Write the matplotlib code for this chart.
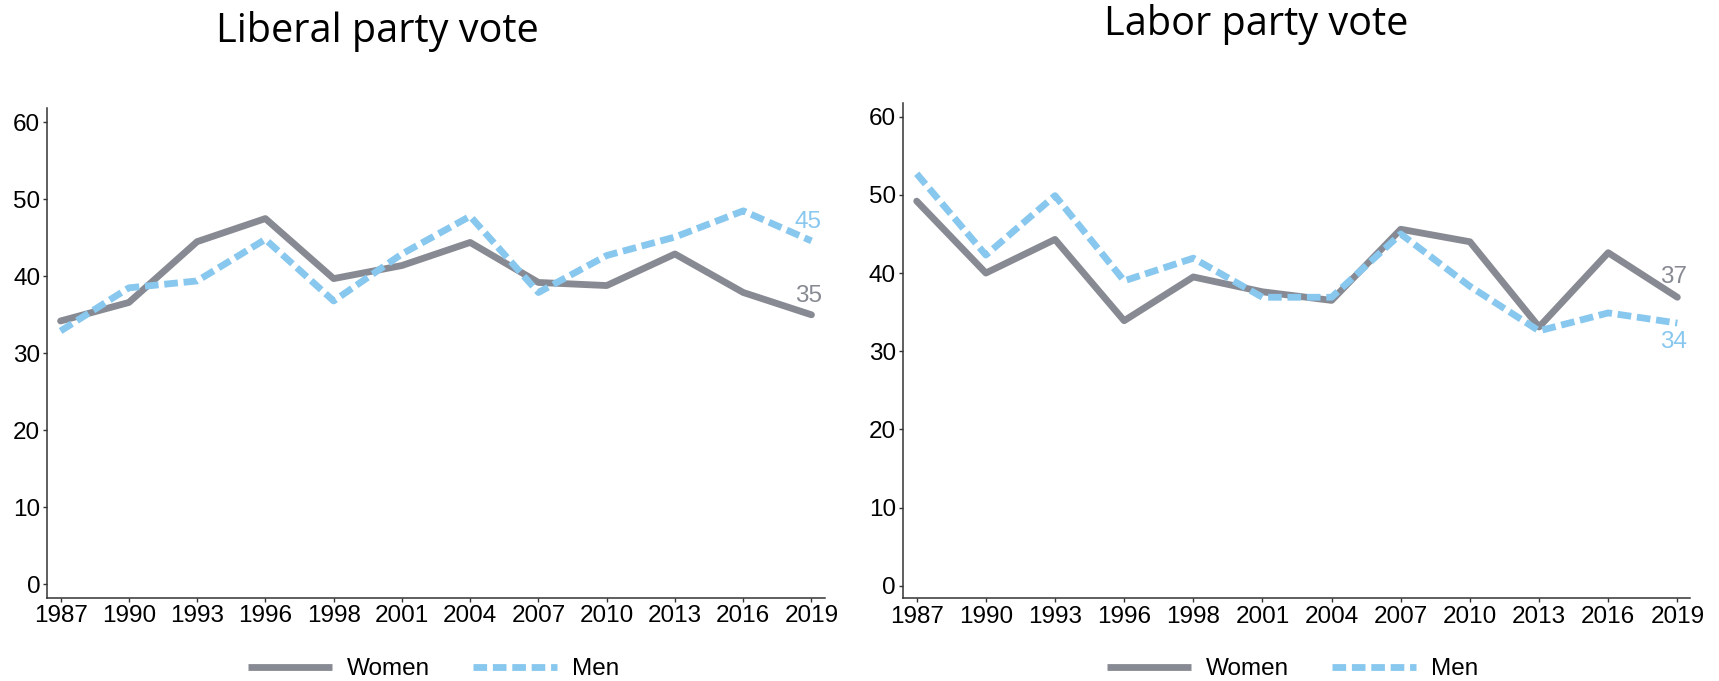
import matplotlib
matplotlib.use("Agg")
import matplotlib.pyplot as plt
from matplotlib.lines import Line2D

years = ["1987", "1990", "1993", "1996", "1998", "2001", "2004", "2007", "2010", "2013", "2016", "2019"]

liberal_women = [34.2, 36.6, 44.5, 47.5, 39.7, 41.4, 44.4, 39.2, 38.8, 42.9, 37.9, 35.0]
liberal_men = [32.9, 38.5, 39.4, 44.8, 36.8, 42.9, 47.8, 37.9, 42.7, 45.1, 48.5, 44.6]

labor_women = [49.2, 40.0, 44.3, 33.9, 39.5, 37.6, 36.5, 45.6, 44.0, 33.1, 42.6, 36.9]
labor_men = [52.7, 42.3, 49.9, 39.0, 41.9, 36.9, 36.9, 45.0, 38.3, 32.6, 34.9, 33.6]

titles = ["Liberal party vote", "Labor party vote"]
series_names = ["Women", "Men"]
yticks = [0, 10, 20, 30, 40, 50, 60]

WOMEN_C = "#878A92"
MEN_C = "#88C7EE"

plt.rcParams['font.family'] = ['Liberation Sans', 'DejaVu Sans']

W, H = 1719, 681
fig = plt.figure(figsize=(W / 100, H / 100), dpi=100)

def px_axes(x0, x1, ytop, ybot):
    return fig.add_axes([x0 / W, 1 - ybot / H, (x1 - x0) / W, (ybot - ytop) / H])

ax1 = px_axes(47.4, 825, 108.3, 597.7)
ax2 = px_axes(903, 1689.8, 102.7, 598.3)

panels = [
    (ax1, liberal_women, liberal_men, (-1.74, 61.82), (-0.193, 11.198), 2.5, 2.5),
    (ax2, labor_women, labor_men, (-1.61, 61.79), (-0.198, 11.18), 2.6, -2.4),
]

for ax, women, men, ylim, xlim, woff, moff in panels:
    xs = list(range(len(years)))
    ax.plot(xs, women, color=WOMEN_C, lw=4.9, solid_capstyle='round',
            solid_joinstyle='round', zorder=2)
    ax.plot(xs, men, color=MEN_C, lw=4.9, dashes=(2.0, 0.85),
            dash_capstyle='butt', zorder=3)
    ax.set_ylim(*ylim)
    ax.set_xlim(*xlim)
    ax.set_xticks(xs)
    ax.set_xticklabels(years)
    ax.set_yticks(yticks)
    for s in ['top', 'right']:
        ax.spines[s].set_visible(False)
    for s in ['left', 'bottom']:
        ax.spines[s].set_color('#333333')
        ax.spines[s].set_linewidth(1.1)
    ax.tick_params(axis='both', direction='out', length=3.2, width=1.0,
                   color='#333333', labelsize=17.5, pad=2, labelcolor='black')
    last = len(years) - 1
    ax.text(last - 0.05, women[-1] + woff, f"{round(women[-1])}", color=WOMEN_C,
            fontsize=17.5, ha='center', va='center')
    ax.text(last - 0.05, men[-1] + moff, f"{round(men[-1])}", color=MEN_C,
            fontsize=17.5, ha='center', va='center')

fig.text(377 / W, 1 - 41.5 / H, titles[0], fontsize=28.5, family=['Open Sans', 'DejaVu Sans'],
         ha='center', va='baseline')
fig.text(1256 / W, 1 - 35 / H, titles[1], fontsize=28.5, family=['Open Sans', 'DejaVu Sans'],
         ha='center', va='baseline')

handles = [
    Line2D([0], [0], color=WOMEN_C, lw=4.9, solid_capstyle='butt'),
    Line2D([0], [0], color=MEN_C, lw=4.9, dashes=(2.0, 0.85), dash_capstyle='butt'),
]

for ax, x0 in [(ax1, 248), (ax2, 1107)]:
    ax.legend(handles, series_names, loc='center left',
              bbox_to_anchor=(x0 / W, 1 - 669 / H), bbox_transform=fig.transFigure,
              ncol=2, frameon=False, fontsize=17.5, handlelength=3.45,
              handletextpad=0.6, columnspacing=1.8, borderpad=0, borderaxespad=0)

fig.savefig("out.png", dpi=100)
